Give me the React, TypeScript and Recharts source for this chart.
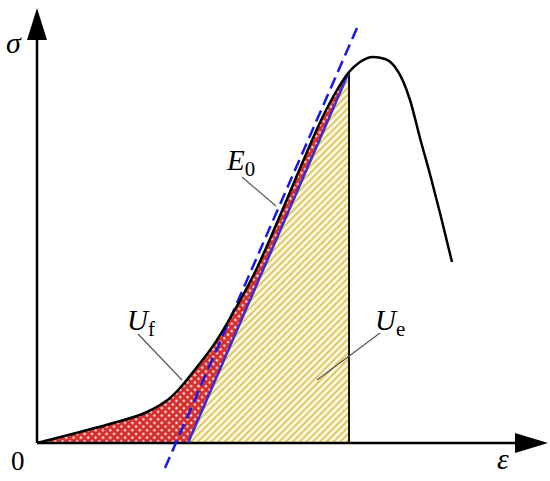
import {
  Area,
  ComposedChart,
  Line,
  ReferenceDot,
  ReferenceLine,
  XAxis,
  YAxis,
} from "recharts";

// stress-strain curve
const strain = [0, 0.86, 1.52, 2.2, 2.46, 2.66, 2.86, 3.2, 3.52, 3.92, 4.4, 4.72, 5.06, 5.4, 5.6, 5.92, 6.24, 6.46, 6.72, 6.96, 7.16, 7.32, 7.46, 7.66, 7.88, 8.08, 8.3];
const stress = [0, 0.22, 0.4, 0.62, 0.76, 0.9, 1.1, 1.52, 1.94, 2.6, 3.5, 4.22, 5.02, 5.82, 6.28, 6.92, 7.42, 7.62, 7.72, 7.68, 7.52, 7.24, 6.86, 6.1, 5.3, 4.52, 3.62];

// unloading line (solid) and initial tangent E0 (dashed)
const unloadStrain = [3.02, 6.24];
const unloadStress = [0, 7.42];
const tangentStrain = [2.56, 6.4];
const tangentStress = [-0.5, 8.3];

const unloadPoint = 6.24;

const curve = strain.map((x, i) => ({ x, y: stress[i] }));
const loaded = curve.filter((p) => p.x <= unloadPoint);
const elastic = unloadStrain.map((x, i) => ({ x, y: unloadStress[i] }));

const serif = "'Liberation Serif', 'Times New Roman', serif";

function Label({ cx, cy, main, sub, size = 30 }: any) {
  return (
    <text x={cx} y={cy} fontFamily={serif} fontSize={size} fill="#000">
      <tspan fontStyle="italic">{main}</tspan>
      {sub ? (
        <tspan fontSize={size * 0.72} dy={6}>
          {sub}
        </tspan>
      ) : null}
    </text>
  );
}

export default function App() {
  return (
    <div style={{ position: "absolute", left: 0, top: 0, background: "#fff" }}>
      <ComposedChart width={550} height={481} margin={{ top: 0, right: 0, bottom: 0, left: 0 }}>
        <defs>
          <pattern id="crossRed" width="5.2" height="5.2" patternUnits="userSpaceOnUse" patternTransform="rotate(45)">
            <rect width="5.2" height="5.2" fill="#d52e2a" />
            <rect x="1.5" y="1.5" width="2.3" height="2.3" fill="#ffe2e8" />
          </pattern>
          <pattern id="hatchYellow" width="4.8" height="10" patternUnits="userSpaceOnUse" patternTransform="rotate(45)">
            <rect width="4.8" height="10" fill="#fff9e2" />
            <rect width="2" height="10" fill="#dcc865" />
          </pattern>
        </defs>
        <XAxis type="number" dataKey="x" domain={[-0.74, 10.26]} hide allowDataOverflow />
        <YAxis type="number" dataKey="y" domain={[-0.76, 8.86]} hide allowDataOverflow />

        <Area data={loaded} dataKey="y" type="monotone" baseValue={0} fill="url(#crossRed)" fillOpacity={1} stroke="none" dot={false} activeDot={false} isAnimationActive={false} />
        <Area data={elastic} dataKey="y" type="linear" baseValue={0} fill="url(#hatchYellow)" fillOpacity={1} stroke="none" dot={false} activeDot={false} isAnimationActive={false} />

        <ReferenceLine segment={[{ x: 0, y: 0 }, { x: 9.56, y: 0 }]} stroke="#000" strokeWidth={2.5} />
        <ReferenceLine segment={[{ x: 0, y: 0 }, { x: 0, y: 8.06 }]} stroke="#000" strokeWidth={2.5} />
        <ReferenceDot
          x={10.22}
          y={0}
          ifOverflow="visible"
          shape={(p: any) => (
            <polygon points={`${p.cx},${p.cy} ${p.cx - 33},${p.cy - 10} ${p.cx - 33},${p.cy + 10}`} fill="#000" />
          )}
        />
        <ReferenceDot
          x={0}
          y={8.7}
          ifOverflow="visible"
          shape={(p: any) => (
            <polygon points={`${p.cx},${p.cy} ${p.cx - 10},${p.cy + 32} ${p.cx + 10},${p.cy + 32}`} fill="#000" />
          )}
        />

        <ReferenceLine segment={[{ x: unloadPoint, y: 0 }, { x: unloadPoint, y: 7.42 }]} stroke="#1a1010" strokeWidth={2} />
        <ReferenceLine
          segment={[{ x: unloadStrain[0], y: unloadStress[0] }, { x: unloadStrain[1], y: unloadStress[1] }]}
          stroke="#3a2ad8"
          strokeWidth={2.5}
        />
        <ReferenceLine
          segment={[{ x: tangentStrain[0], y: tangentStress[0] }, { x: tangentStrain[1], y: tangentStress[1] }]}
          stroke="#1818e8"
          strokeWidth={2.5}
          strokeDasharray="12 6"
          ifOverflow="visible"
        />

        <Line data={curve} dataKey="y" type="monotone" stroke="#000" strokeWidth={2.5} dot={false} activeDot={false} isAnimationActive={false} />

        {/* leader lines */}
        <ReferenceLine segment={[{ x: 4.1, y: 5.32 }, { x: 4.78, y: 4.74 }]} stroke="#555" strokeWidth={1.2} />
        <ReferenceLine segment={[{ x: 2.02, y: 2.18 }, { x: 2.9, y: 1.26 }]} stroke="#555" strokeWidth={1.2} />
        <ReferenceLine segment={[{ x: 6.86, y: 2.2 }, { x: 5.6, y: 1.26 }]} stroke="#555" strokeWidth={1.2} />

        {/* labels */}
        <ReferenceDot x={-0.62} y={7.8} ifOverflow="visible" shape={(p: any) => <Label {...p} main="σ" size={30} />} />
        <ReferenceDot x={9.2} y={-0.52} ifOverflow="visible" shape={(p: any) => <Label {...p} main="ε" size={30} />} />
        <ReferenceDot
          x={-0.52}
          y={-0.54}
          ifOverflow="visible"
          shape={(p: any) => (
            <text x={p.cx} y={p.cy} fontFamily={serif} fontSize={27} fill="#000">
              0
            </text>
          )}
        />
        <ReferenceDot x={3.8} y={5.46} ifOverflow="visible" shape={(p: any) => <Label {...p} main="E" sub="0" size={29} />} />
        <ReferenceDot x={1.8} y={2.26} ifOverflow="visible" shape={(p: any) => <Label {...p} main="U" sub="f" size={29} />} />
        <ReferenceDot x={6.76} y={2.26} ifOverflow="visible" shape={(p: any) => <Label {...p} main="U" sub="e" size={29} />} />
      </ComposedChart>
    </div>
  );
}
